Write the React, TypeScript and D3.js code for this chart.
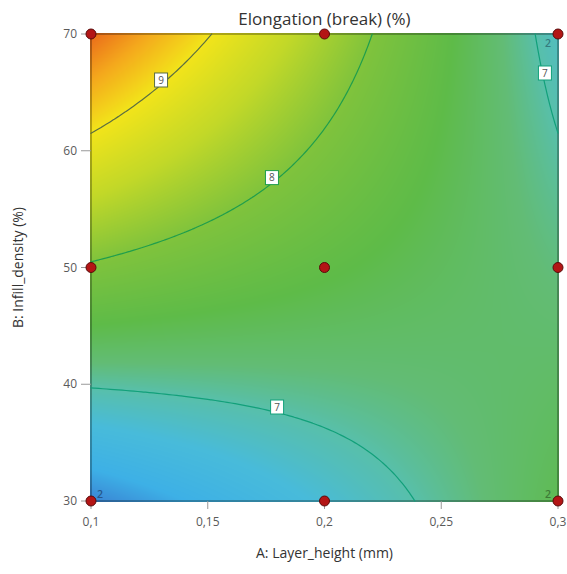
import React, { useMemo } from 'react';
import * as d3 from 'd3';

// Factor axes
const A_TICKS = [0.1, 0.15, 0.2, 0.25, 0.3];
const B_TICKS = [30, 40, 50, 60, 70];

// Response surface model in coded units (A: -1..1, B: -1..1)
const MODEL_TERMS = ['Intercept', 'A', 'B', 'AB', 'A^2', 'B^2'];
const MODEL_COEFS = [7.548, -0.392, 0.778, -1.058, 0.015, -0.03];

// Contours
const CONTOUR_LEVELS = [7, 8, 9];
const CONTOUR_COLORS = ['#12A07A', '#1F9E4C', '#5B6E42'];
const LABEL_LEVELS = [9, 8, 7, 7];
const LABEL_A = [0.13, 0.1775, 0.2944, 0.1797];
const LABEL_B = [66.06, 57.7, 66.66, 38.05];

// Design points
const POINT_A = [0.1, 0.1, 0.1, 0.2, 0.2, 0.2, 0.3, 0.3, 0.3];
const POINT_B = [30, 50, 70, 30, 50, 70, 30, 50, 70];
const POINT_REPS = [2, 1, 1, 1, 1, 1, 2, 1, 2];

// Colour map
const COLOR_STOPS = [6.1, 6.35, 6.7, 7.0, 7.2, 7.5, 8.0, 8.5, 9.0, 9.4, 9.76];
const COLOR_RANGE = ['#3A86D4', '#3DB0E6', '#48BBDA', '#58BFAA', '#62BC75', '#5EBB48', '#80C33C', '#C2D828', '#F2E41A', '#F4A81C', '#EA6A1A'];

const TITLE = 'Elongation (break) (%)';
const X_TITLE = 'A: Layer_height (mm)';
const Y_TITLE = 'B: Infill_density (%)';

const WIDTH = 567;
const HEIGHT = 574;
const M = { left: 91, right: 9, top: 34, bottom: 73 };
const FONT = '"Open Sans", "Noto Sans", sans-serif';

const A_DOM = [0.1, 0.3];
const B_DOM = [30, 70];

function model(A: number, B: number) {
  const a = (A - 0.2) / 0.1;
  const b = (B - 50) / 20;
  const c = MODEL_COEFS;
  return c[0] + c[1] * a + c[2] * b + c[3] * a * b + c[4] * a * a + c[5] * b * b;
}

const locale = d3.formatLocale({ decimal: ',', thousands: '.', grouping: [3], currency: ['', ''] });
const fmtA = locale.format('.2~f');

function isoSegments(level: number, n: number) {
  const grid: number[][] = [];
  const av = (i: number) => A_DOM[0] + (i * (A_DOM[1] - A_DOM[0])) / n;
  const bv = (j: number) => B_DOM[0] + (j * (B_DOM[1] - B_DOM[0])) / n;
  for (let i = 0; i <= n; i++) {
    grid[i] = [];
    for (let j = 0; j <= n; j++) grid[i][j] = model(av(i), bv(j));
  }
  const segs: [number, number][][] = [];
  for (let i = 0; i < n; i++) {
    for (let j = 0; j < n; j++) {
      const corners: [number, number][] = [[i, j], [i + 1, j], [i + 1, j + 1], [i, j + 1]];
      const pts: [number, number][] = [];
      for (let k = 0; k < 4; k++) {
        const p = corners[k];
        const q = corners[(k + 1) % 4];
        const va = grid[p[0]][p[1]];
        const vb = grid[q[0]][q[1]];
        if ((va < level) !== (vb < level)) {
          const t = (level - va) / (vb - va);
          const ii = p[0] + t * (q[0] - p[0]);
          const jj = p[1] + t * (q[1] - p[1]);
          pts.push([A_DOM[0] + (ii * (A_DOM[1] - A_DOM[0])) / n, B_DOM[0] + (jj * (B_DOM[1] - B_DOM[0])) / n]);
        }
      }
      if (pts.length === 2) segs.push([pts[0], pts[1]]);
      else if (pts.length === 4) {
        segs.push([pts[0], pts[1]]);
        segs.push([pts[2], pts[3]]);
      }
    }
  }
  return segs;
}

export default function App() {
  const x = d3.scaleLinear().domain(A_DOM).range([M.left, WIDTH - M.right]);
  const y = d3.scaleLinear().domain(B_DOM).range([HEIGHT - M.bottom, M.top]);
  const color = d3
    .scaleLinear<string>()
    .domain(COLOR_STOPS)
    .range(COLOR_RANGE)
    .interpolate(d3.interpolateRgb)
    .clamp(true);

  const x0 = M.left, x1 = WIDTH - M.right, y0 = M.top, y1 = HEIGHT - M.bottom;
  const ox = x0 - 1, oy = y0 - 1;
  const W = Math.round(x1 - x0) + 2;
  const H = Math.round(y1 - y0) + 2;

  const href = useMemo(() => {
    const canvas = document.createElement('canvas');
    canvas.width = W;
    canvas.height = H;
    const ctx = canvas.getContext('2d');
    if (!ctx) return '';
    const img = ctx.createImageData(W, H);
    for (let py = 0; py < H; py++) {
      const cy = oy + py + 0.5;
      const B = Math.max(B_DOM[0], Math.min(B_DOM[1], y.invert(cy)));
      for (let px = 0; px < W; px++) {
        const cx = ox + px + 0.5;
        const A = Math.max(A_DOM[0], Math.min(A_DOM[1], x.invert(cx)));
        let c = d3.rgb(color(model(A, B)));
        const border = cx < x0 + 1 || cx > x1 - 1 || cy < y0 + 1 || cy > y1 - 1;
        if (border) c = c.darker(0.9);
        const k = (py * W + px) * 4;
        img.data[k] = c.r;
        img.data[k + 1] = c.g;
        img.data[k + 2] = c.b;
        img.data[k + 3] = 255;
      }
    }
    ctx.putImageData(img, 0, 0);
    return canvas.toDataURL();
  }, []);

  const contourPaths = CONTOUR_LEVELS.map((lv, li) => {
    const segs = isoSegments(lv, 120);
    const d = segs.map((s) => `M${x(s[0][0])},${y(s[0][1])}L${x(s[1][0])},${y(s[1][1])}`).join('');
    return <path key={lv} d={d} fill="none" stroke={CONTOUR_COLORS[li]} strokeWidth={1.2} strokeLinecap="round" />;
  });

  return (
    <svg width={WIDTH} height={HEIGHT} style={{ position: 'absolute', left: 0, top: 0, background: '#fff' }}>
      <image href={href} x={ox} y={oy} width={W} height={H} />
      <g>{contourPaths}</g>
      {LABEL_LEVELS.map((lv, i) => {
        const cx = x(LABEL_A[i]);
        const cy = y(LABEL_B[i]);
        const col = CONTOUR_COLORS[CONTOUR_LEVELS.indexOf(lv)];
        return (
          <g key={'lab' + i}>
            <rect x={cx - 6.5} y={cy - 7} width={13} height={14} fill="#fff" stroke={col} strokeWidth={1} />
            <text x={cx} y={cy + 3.6} textAnchor="middle" fontFamily={FONT} fontSize={10} fill="#555">
              {lv}
            </text>
          </g>
        );
      })}
      {/* x ticks */}
      {A_TICKS.map((t) => (
        <g key={'xt' + t}>
          <line x1={x(t)} x2={x(t)} y1={y1} y2={y1 + 8} stroke="#999" strokeWidth={1} />
          <text x={x(t)} y={y1 + 25} textAnchor="middle" fontFamily={FONT} fontSize={12} fill="#5a5a5a">
            {fmtA(t)}
          </text>
        </g>
      ))}
      {/* y ticks */}
      {B_TICKS.map((t) => (
        <g key={'yt' + t}>
          <line x1={x0 - 10} x2={x0} y1={y(t)} y2={y(t)} stroke="#999" strokeWidth={1} />
          <text x={x0 - 14} y={y(t) + 4} textAnchor="end" fontFamily={FONT} fontSize={12} fill="#5a5a5a">
            {t}
          </text>
        </g>
      ))}
      {/* design points */}
      {POINT_A.map((a, i) => (
        <circle key={'p' + i} cx={x(a)} cy={y(POINT_B[i])} r={5} fill="#B31515" stroke="#5A0A0A" strokeWidth={1} />
      ))}
      {POINT_A.map((a, i) => {
        if (POINT_REPS[i] < 2) return null;
        const atRight = a === A_DOM[1];
        const atBottom = POINT_B[i] === B_DOM[0];
        const tx = x(a) + (atRight ? -7 : 6);
        const ty = y(POINT_B[i]) + (atBottom ? -3 : 13);
        const col = d3.rgb(color(model(a, POINT_B[i]))).darker(1.2).formatHex();
        return (
          <text key={'r' + i} x={tx} y={ty} textAnchor={atRight ? 'end' : 'start'} fontFamily={FONT} fontSize={10.5} fontWeight={600} fill={col}>
            {POINT_REPS[i]}
          </text>
        );
      })}
      <text x={(x0 + x1) / 2} y={25} textAnchor="middle" fontFamily={FONT} fontSize={17} fill="#333">
        {TITLE}
      </text>
      <text x={(x0 + x1) / 2} y={558} textAnchor="middle" fontFamily={FONT} fontSize={14} fill="#333">
        {X_TITLE}
      </text>
      <text transform={`translate(23,${(y0 + y1) / 2}) rotate(-90)`} textAnchor="middle" fontFamily={FONT} fontSize={14} fill="#333">
        {Y_TITLE}
      </text>
    </svg>
  );
}
